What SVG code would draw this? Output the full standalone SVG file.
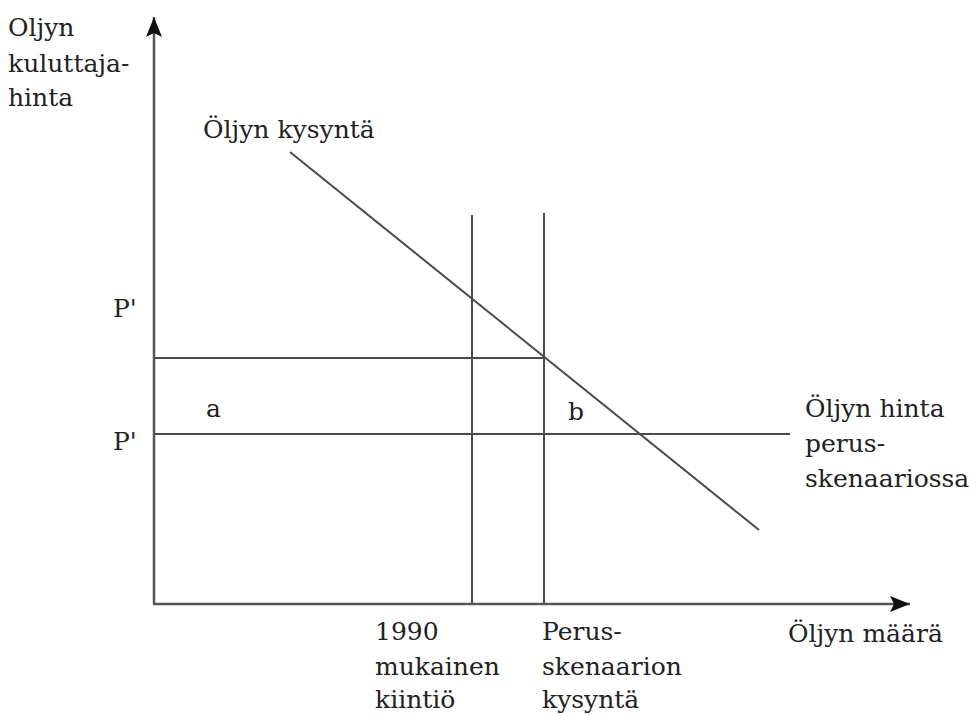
<svg xmlns="http://www.w3.org/2000/svg" width="969" height="716" viewBox="0 0 969 716">
<defs>
<style>
.ln{stroke:#4a4a4a;stroke-width:2;fill:none}
.ax{stroke:#555;stroke-width:2.5;fill:none}
text{font-family:"DejaVu Serif","Liberation Serif",serif;font-size:25px;fill:#222}
</style>
<marker id="arr" viewBox="0 0 20 16" refX="20" refY="8" markerWidth="20" markerHeight="16" markerUnits="userSpaceOnUse" orient="auto">
<path d="M0,0 L20,8 L0,16 L4,8 Z" fill="#111"/>
</marker>
</defs>
<rect width="969" height="716" fill="#fff"/>
<g id="connectors">
<line class="ax" x1="154" y1="604" x2="154" y2="17" marker-end="url(#arr)"/>
<line class="ax" x1="153" y1="604" x2="910" y2="604" marker-end="url(#arr)"/>
<line class="ln" x1="472" y1="215" x2="472" y2="604"/>
<line class="ln" x1="544" y1="213" x2="544" y2="604"/>
<line class="ln" x1="154" y1="358" x2="544" y2="358"/>
<line class="ln" x1="154" y1="434" x2="790" y2="434"/>
<line class="ln" x1="290" y1="152" x2="759" y2="530"/>
</g>
<g id="y-label"><text x="8" y="36">Oljyn</text><text x="8" y="72">kuluttaja-</text><text x="8" y="106">hinta</text></g>
<g id="demand-label"><text x="203" y="138">Öljyn kysyntä</text></g>
<g id="p1"><text x="113" y="317">P'</text></g>
<g id="p0"><text x="113" y="450">P'</text></g>
<g id="a"><text x="206" y="417">a</text></g>
<g id="b"><text x="568" y="420">b</text></g>
<g id="price-label"><text x="805" y="417">Öljyn hinta</text><text x="805" y="452">perus-</text><text x="805" y="487">skenaariossa</text></g>
<g id="x-label"><text x="788" y="642">Öljyn määrä</text></g>
<g id="quota"><text x="375" y="640">1990</text><text x="375" y="675">mukainen</text><text x="375" y="708">kiintiö</text></g>
<g id="base-demand"><text x="542" y="640">Perus-</text><text x="542" y="675">skenaarion</text><text x="542" y="708">kysyntä</text></g>
</svg>
